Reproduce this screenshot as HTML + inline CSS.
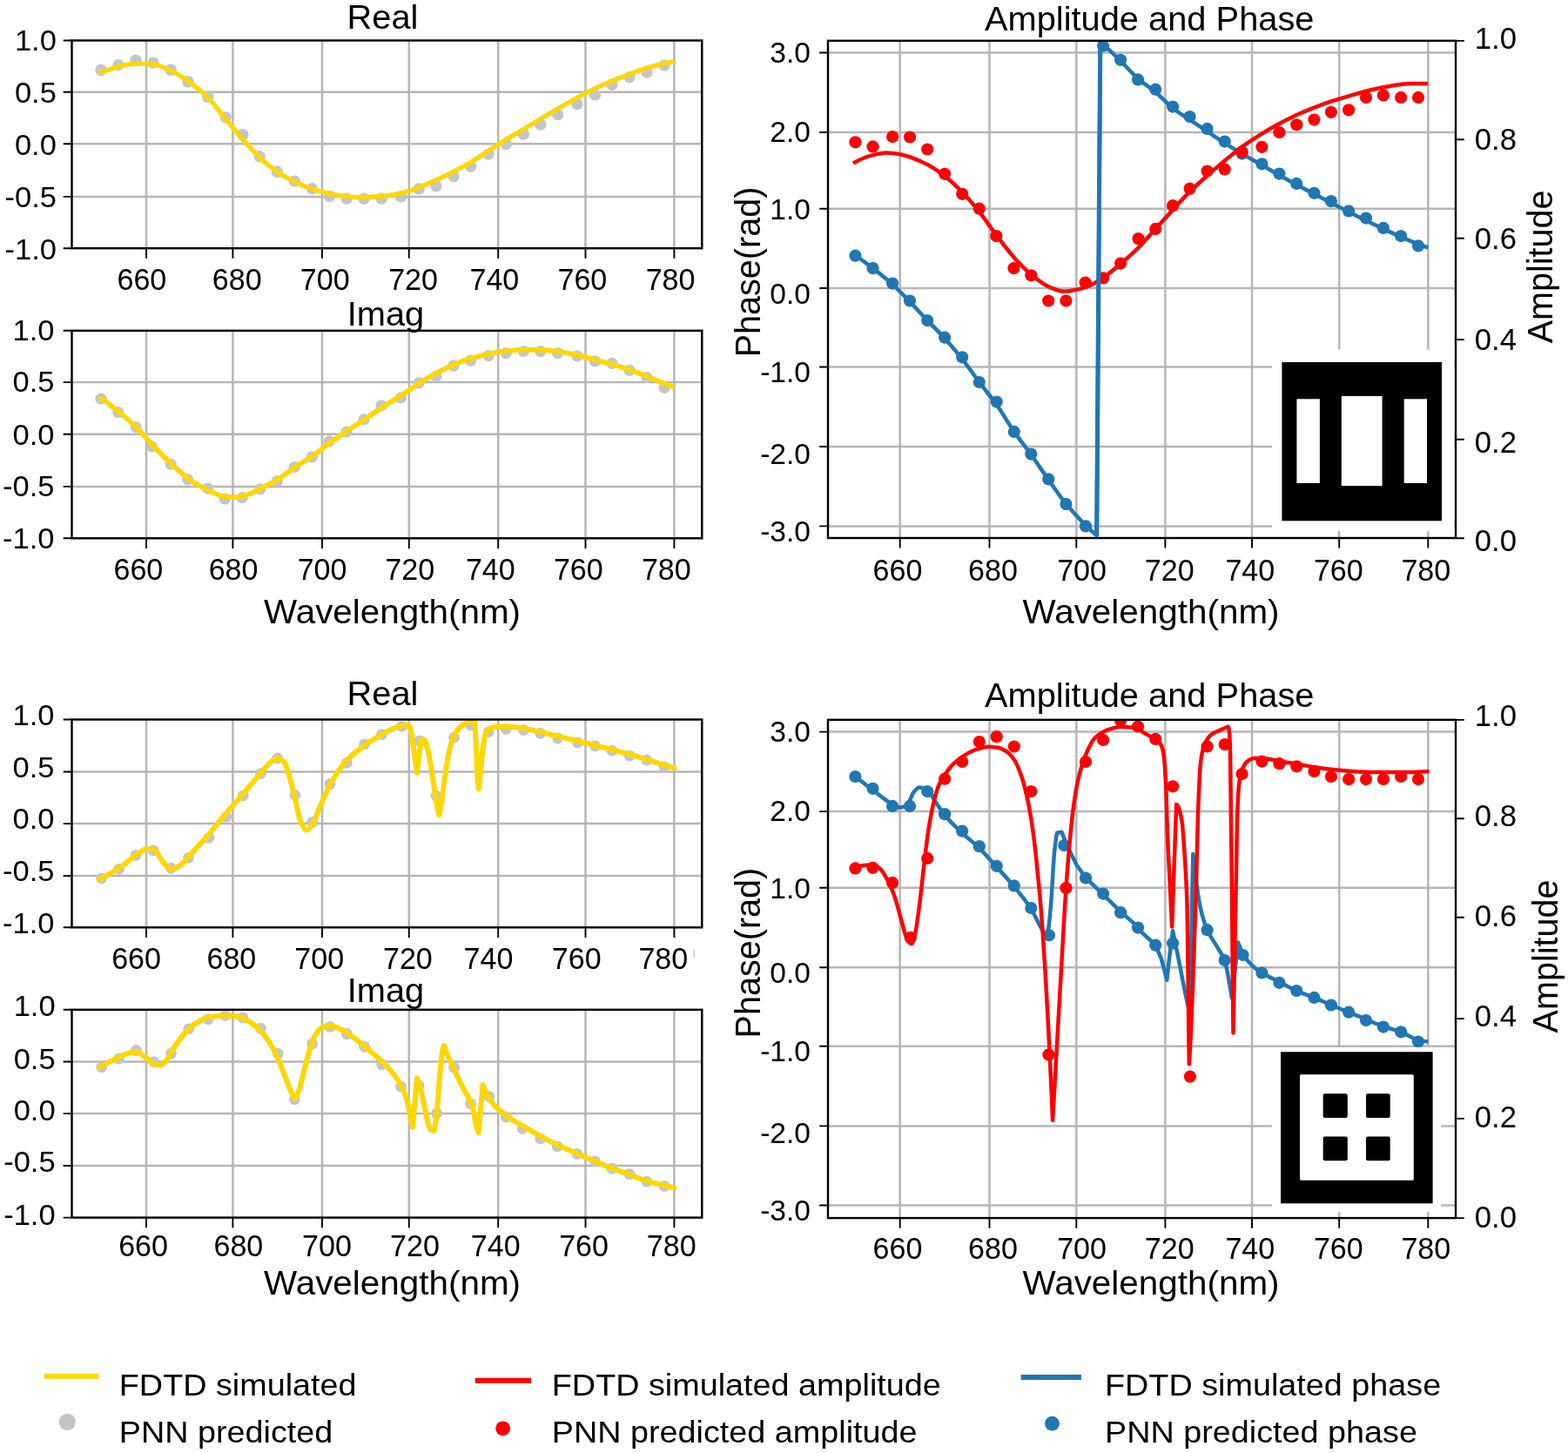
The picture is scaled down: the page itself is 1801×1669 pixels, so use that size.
<!DOCTYPE html>
<html lang="en">
<head>
<meta charset="utf-8">
<title>FDTD simulated vs PNN predicted spectra</title>
<style>
html,body{margin:0;padding:0;background:#fff;}
body{width:1801px;height:1669px;overflow:hidden;font-family:"Liberation Sans",sans-serif;}
svg{display:block;}
</style>
</head>
<body>
<svg width="1801" height="1669" viewBox="0 0 1801 1669" font-family="'Liberation Sans', sans-serif" fill="#000">
<rect width="1801" height="1669" fill="#fff"/>
<defs><clipPath id="clipA"><rect x="82.5" y="46.5" width="723.8" height="238.7"/></clipPath><clipPath id="clipB"><rect x="82.5" y="379.8" width="723.8" height="238.5"/></clipPath><clipPath id="clipD"><rect x="82.5" y="826.5" width="723.8" height="238.8"/></clipPath><clipPath id="clipE"><rect x="82.5" y="1159.8" width="723.8" height="238.8"/></clipPath><clipPath id="clipC"><rect x="951" y="46.8" width="721" height="571.2"/></clipPath><clipPath id="clipF"><rect x="951" y="826.8" width="721" height="572.3"/></clipPath></defs>
<g>
<path d="M168 46.5V285.2M267.4 46.5V285.2M370 46.5V285.2M469.8 46.5V285.2M572.2 46.5V285.2M672.5 46.5V285.2M774.4 46.5V285.2M82.5 105.7H806.3M82.5 165.3H806.3M82.5 225.9H806.3" stroke="#b6b6b6" stroke-width="2.5" fill="none"/>
<g clip-path="url(#clipA)">
<g fill="#c4c5ca"><circle cx="116" cy="80.5" r="6.7"/><circle cx="135.9" cy="74.8" r="6.7"/><circle cx="156" cy="69.3" r="6.7"/><circle cx="176.1" cy="72.1" r="6.7"/><circle cx="196.1" cy="80.2" r="6.7"/><circle cx="216" cy="93.7" r="6.7"/><circle cx="238.6" cy="111.4" r="6.7"/><circle cx="259.1" cy="134.7" r="6.7"/><circle cx="278.9" cy="154.8" r="6.7"/><circle cx="298.2" cy="179.8" r="6.7"/><circle cx="318.3" cy="197.2" r="6.7"/><circle cx="338.4" cy="208.1" r="6.7"/><circle cx="358.4" cy="216.7" r="6.7"/><circle cx="378.3" cy="225.5" r="6.7"/><circle cx="398" cy="228.2" r="6.7"/><circle cx="418" cy="228.3" r="6.7"/><circle cx="438.1" cy="228.2" r="6.7"/><circle cx="460.5" cy="225.9" r="6.7"/><circle cx="481.1" cy="216.9" r="6.7"/><circle cx="501" cy="213.7" r="6.7"/><circle cx="521.1" cy="202.6" r="6.7"/><circle cx="540.7" cy="191.3" r="6.7"/><circle cx="561.2" cy="177.1" r="6.7"/><circle cx="581.3" cy="165.6" r="6.7"/><circle cx="601.3" cy="154.3" r="6.7"/><circle cx="620.8" cy="142.9" r="6.7"/><circle cx="640.7" cy="131.5" r="6.7"/><circle cx="662.9" cy="119.5" r="6.7"/><circle cx="683.4" cy="108.9" r="6.7"/><circle cx="703" cy="97.3" r="6.7"/><circle cx="723.1" cy="88.8" r="6.7"/><circle cx="743" cy="83.1" r="6.7"/><circle cx="763" cy="75" r="6.7"/></g>
<path d="M113.9 84.2C121.2 81 128.6 78.3 135.9 76.6C142.6 75 149.3 72.9 156 72.9C162.7 72.9 169.4 73.3 176.1 73.9C182.8 74.5 189.4 78.1 196.1 81.1C202.7 84.1 209.4 88.4 216 93C223.5 98.2 231.1 104.5 238.6 111.9C245.4 118.7 252.3 128.3 259.1 136.6C265.7 144.4 272.3 152.8 278.9 160.2C285.3 167.4 291.7 174.8 298.2 180.7C304.9 186.9 311.6 192.6 318.3 197.2C325 201.7 331.7 205.6 338.4 208.9C345.1 212.1 351.7 214.9 358.4 217.1C365 219.2 371.7 221.1 378.3 222.4C384.9 223.7 391.4 225 398 225.5C404.7 226 411.3 226.5 418 226.5C424.7 226.5 431.4 226 438.1 225.5C448.7 224.7 459.2 222.2 469.8 219.4C474.9 218 480.1 215.6 485.2 213.6C490.5 211.5 495.7 209.2 501 206.8C507.7 203.8 514.4 200.6 521.1 197.2C527.7 193.8 534.2 190.2 540.7 186.3C547.5 182.2 554.4 177.5 561.2 173.1C567.9 168.8 574.6 164.3 581.3 160.2C588 156.1 594.6 152.5 601.3 148.5C607.8 144.6 614.3 140.5 620.8 136.6C627.4 132.6 634.1 128.7 640.7 124.8C648.1 120.6 655.5 116.3 662.9 112.3C669.8 108.6 676.6 104.9 683.4 101.6C690 98.5 696.5 95.7 703 93C709.7 90.2 716.4 87.7 723.1 85.2C729.7 82.7 736.4 80 743 78C749.7 76 756.3 74.4 763 72.9C766.8 72 770.6 71.2 774.5 70.4" fill="none" stroke="#ffd700" stroke-width="5.3" stroke-linejoin="round"/>
</g>
<rect x="82.5" y="46.5" width="723.8" height="238.7" fill="none" stroke="#000" stroke-width="2.4"/>
<path d="M168 285.2v11.6M267.4 285.2v11.6M370 285.2v11.6M469.8 285.2v11.6M572.2 285.2v11.6M672.5 285.2v11.6M774.4 285.2v11.6M82.5 46.5h-9.8M82.5 105.7h-9.8M82.5 165.3h-9.8M82.5 225.9h-9.8M82.5 285.2h-9.8" stroke="#000" stroke-width="1.9" fill="none"/>
<text transform="translate(162.9 332.6) scale(0.968 1)" font-size="35.2" text-anchor="middle">660</text>
<text transform="translate(272.2 332.6) scale(0.968 1)" font-size="35.2" text-anchor="middle">680</text>
<text transform="translate(373.2 332.6) scale(0.968 1)" font-size="35.2" text-anchor="middle">700</text>
<text transform="translate(474.6 332.6) scale(0.968 1)" font-size="35.2" text-anchor="middle">720</text>
<text transform="translate(567.9 332.6) scale(0.968 1)" font-size="35.2" text-anchor="middle">740</text>
<text transform="translate(668.9 332.6) scale(0.968 1)" font-size="35.2" text-anchor="middle">760</text>
<text transform="translate(770.1 332.6) scale(0.968 1)" font-size="35.2" text-anchor="middle">780</text>
<text transform="translate(64.9 58.3) scale(1.027 1)" font-size="33.6" text-anchor="end">1.0</text>
<text transform="translate(64.9 118) scale(1.027 1)" font-size="33.6" text-anchor="end">0.5</text>
<text transform="translate(64.9 178.2) scale(1.027 1)" font-size="33.6" text-anchor="end">0.0</text>
<text transform="translate(64.9 238) scale(1.027 1)" font-size="33.6" text-anchor="end">-0.5</text>
<text transform="translate(64.9 297.8) scale(1.027 1)" font-size="33.6" text-anchor="end">-1.0</text>
<path d="M168 379.8V618.3M267.4 379.8V618.3M370 379.8V618.3M469.8 379.8V618.3M572.2 379.8V618.3M672.5 379.8V618.3M774.4 379.8V618.3M82.5 439.1H806.3M82.5 498.7H806.3M82.5 558.9H806.3" stroke="#b6b6b6" stroke-width="2.5" fill="none"/>
<g clip-path="url(#clipB)">
<g fill="#c4c5ca"><circle cx="116" cy="458.2" r="6.6"/><circle cx="135.9" cy="473.6" r="6.6"/><circle cx="156" cy="490.5" r="6.6"/><circle cx="174.5" cy="512.8" r="6.6"/><circle cx="196.1" cy="533.1" r="6.6"/><circle cx="215.6" cy="550.6" r="6.6"/><circle cx="238.6" cy="561.2" r="6.6"/><circle cx="258.3" cy="573" r="6.6"/><circle cx="278.3" cy="571.7" r="6.6"/><circle cx="298.8" cy="561.9" r="6.6"/><circle cx="318.3" cy="552.6" r="6.6"/><circle cx="338.4" cy="536.4" r="6.6"/><circle cx="358.4" cy="524.9" r="6.6"/><circle cx="378.3" cy="506.8" r="6.6"/><circle cx="398" cy="496.2" r="6.6"/><circle cx="418" cy="481.9" r="6.6"/><circle cx="438.1" cy="465.8" r="6.6"/><circle cx="460.5" cy="456.9" r="6.6"/><circle cx="481.1" cy="439.8" r="6.6"/><circle cx="501" cy="432.2" r="6.6"/><circle cx="521.1" cy="420.1" r="6.6"/><circle cx="540.7" cy="414.2" r="6.6"/><circle cx="561.2" cy="408.7" r="6.6"/><circle cx="581.3" cy="405.6" r="6.6"/><circle cx="601.3" cy="403.6" r="6.6"/><circle cx="620.8" cy="403.6" r="6.6"/><circle cx="640.7" cy="405.7" r="6.6"/><circle cx="662.9" cy="408.8" r="6.6"/><circle cx="683.4" cy="414.9" r="6.6"/><circle cx="703" cy="417.3" r="6.6"/><circle cx="723.1" cy="425.3" r="6.6"/><circle cx="743" cy="433.5" r="6.6"/><circle cx="763" cy="445.4" r="6.6"/></g>
<path d="M113.9 456.2C121.2 461.2 128.6 466.7 135.9 472.6C142.6 478 149.3 483.6 156 490.1C162.7 496.6 169.4 505.3 176.1 512.3C182.8 519.3 189.4 526 196.1 532.2C202.7 538.4 209.4 545 216 549.7C223.5 555 231.1 559.6 238.6 563C245.3 566.1 252 569.9 258.7 570.6C261.6 571 264.5 571.3 267.4 571.3C271.2 571.3 275 570.5 278.9 569.8C285.3 568.6 291.7 564.6 298.2 561.6C304.9 558.5 311.6 555.3 318.3 551.3C325 547.3 331.7 541.5 338.4 536.9C345.1 532.4 351.7 528.6 358.4 524C365 519.4 371.7 513.8 378.3 509C384.9 504.3 391.4 499.9 398 495.4C404.7 490.9 411.3 486.6 418 482.1C424.7 477.6 431.4 472.9 438.1 468.5C445.6 463.6 453.1 459.3 460.5 454.4C467.4 449.9 474.2 444.7 481.1 440.4C487.7 436.2 494.4 432.2 501 428.7C507.7 425.1 514.4 421.6 521.1 418.8C527.7 416.1 534.2 413.8 540.7 411.8C547.5 409.8 554.4 407.9 561.2 406.5C567.9 405.1 574.6 403.9 581.3 403.2C588 402.5 594.6 401.6 601.3 401.6C607.8 401.6 614.3 401.6 620.8 401.8C627.4 401.9 634.1 402.9 640.7 403.8C648.1 404.8 655.5 406.3 662.9 407.9C669.8 409.4 676.6 411.4 683.4 413.3C690 415 696.5 416.7 703 418.6C709.7 420.5 716.4 422.5 723.1 424.8C729.7 427 736.4 429.7 743 432.4C749.7 435 756.3 438.1 763 440.6C766.8 442 770.6 443.4 774.5 444.7" fill="none" stroke="#ffd700" stroke-width="5.7" stroke-linejoin="round"/>
</g>
<rect x="82.5" y="379.8" width="723.8" height="238.5" fill="none" stroke="#000" stroke-width="2.4"/>
<path d="M168 618.3v11.6M267.4 618.3v11.6M370 618.3v11.6M469.8 618.3v11.6M572.2 618.3v11.6M672.5 618.3v11.6M774.4 618.3v11.6M82.5 379.8h-9.8M82.5 439.1h-9.8M82.5 498.7h-9.8M82.5 558.9h-9.8M82.5 618.3h-9.8" stroke="#000" stroke-width="1.9" fill="none"/>
<text transform="translate(158.9 666.3) scale(0.968 1)" font-size="35.2" text-anchor="middle">660</text>
<text transform="translate(268.1 666.3) scale(0.968 1)" font-size="35.2" text-anchor="middle">680</text>
<text transform="translate(370.1 666.3) scale(0.968 1)" font-size="35.2" text-anchor="middle">700</text>
<text transform="translate(470.7 666.3) scale(0.968 1)" font-size="35.2" text-anchor="middle">720</text>
<text transform="translate(563.3 666.3) scale(0.968 1)" font-size="35.2" text-anchor="middle">740</text>
<text transform="translate(664.3 666.3) scale(0.968 1)" font-size="35.2" text-anchor="middle">760</text>
<text transform="translate(765.3 666.3) scale(0.968 1)" font-size="35.2" text-anchor="middle">780</text>
<text transform="translate(62.5 391) scale(1.027 1)" font-size="33.6" text-anchor="end">1.0</text>
<text transform="translate(62.5 450.2) scale(1.027 1)" font-size="33.6" text-anchor="end">0.5</text>
<text transform="translate(62.5 510.6) scale(1.027 1)" font-size="33.6" text-anchor="end">0.0</text>
<text transform="translate(62.5 570.4) scale(1.027 1)" font-size="33.6" text-anchor="end">-0.5</text>
<text transform="translate(62.5 630.1) scale(1.027 1)" font-size="33.6" text-anchor="end">-1.0</text>
<path d="M168 826.5V1065.3M267.4 826.5V1065.3M370 826.5V1065.3M469.8 826.5V1065.3M572.2 826.5V1065.3M672.5 826.5V1065.3M774.4 826.5V1065.3M82.5 886.5H806.3M82.5 946.1H806.3M82.5 1006H806.3" stroke="#b6b6b6" stroke-width="2.5" fill="none"/>
<g clip-path="url(#clipD)">
<g fill="#c4c5ca"><circle cx="116.6" cy="1009" r="6.4"/><circle cx="136.5" cy="998.4" r="6.4"/><circle cx="156" cy="982.4" r="6.4"/><circle cx="176.1" cy="976.8" r="6.4"/><circle cx="196.5" cy="997.3" r="6.4"/><circle cx="216.6" cy="985.3" r="6.4"/><circle cx="239.8" cy="962.3" r="6.4"/><circle cx="259.8" cy="938.4" r="6.4"/><circle cx="279.3" cy="913.8" r="6.4"/><circle cx="299.4" cy="888.7" r="6.4"/><circle cx="318.7" cy="871" r="6.4"/><circle cx="338.9" cy="913.3" r="6.4"/><circle cx="358.8" cy="944.4" r="6.4"/><circle cx="378.9" cy="900.7" r="6.4"/><circle cx="398.4" cy="876.3" r="6.4"/><circle cx="418.6" cy="854.9" r="6.4"/><circle cx="438.5" cy="843.7" r="6.4"/><circle cx="461.6" cy="834.3" r="6.4"/><circle cx="482.1" cy="850.9" r="6.4"/><circle cx="501" cy="914.1" r="6.4"/><circle cx="521.6" cy="847.2" r="6.4"/><circle cx="540.7" cy="832.9" r="6.4"/><circle cx="561.2" cy="840.8" r="6.4"/><circle cx="581.3" cy="837.4" r="6.4"/><circle cx="601.3" cy="838.4" r="6.4"/><circle cx="620.8" cy="842.5" r="6.4"/><circle cx="640.7" cy="848" r="6.4"/><circle cx="663.5" cy="852.9" r="6.4"/><circle cx="683.4" cy="856.8" r="6.4"/><circle cx="703" cy="862.2" r="6.4"/><circle cx="723.1" cy="868.1" r="6.4"/><circle cx="743" cy="873.2" r="6.4"/><circle cx="763" cy="880.8" r="6.4"/></g>
<path d="M113.9 1010.2C121.2 1006.8 128.6 1002.6 135.9 997.8C142.6 993.5 149.3 986.8 156 982.4C160.1 979.7 164.2 975.2 168.3 975.2C171.1 975.2 173.8 975.4 176.6 975.7C180 976 183.4 985.9 186.8 989.6C190.3 993.3 193.7 998.9 197.1 998.9C200.5 998.9 203.9 996.1 207.4 993.7C210.2 991.8 213.1 987.6 216 984.5C223.5 976.4 231.1 968.5 238.6 959.8C245.4 951.9 252.3 942.8 259.1 934.8C265.7 927 272.3 920 278.9 912.4C285.3 904.9 291.7 896.6 298.2 889.4C302.8 884.2 307.5 877.7 312.1 874.6C314.5 873 316.9 870.9 319.3 870.9C321.7 870.9 324.1 873 326.5 875.6C328.6 877.8 330.6 886.3 332.7 893.1C334.6 899.4 336.5 908 338.4 915.7C340.6 924.4 342.8 937.4 345 942.4C347.4 947.8 349.8 953.7 352.2 953.7C354.3 953.7 356.3 950.3 358.4 947.5C361.5 943.3 364.5 933.3 367.6 926.3C371.2 918.4 374.7 909.7 378.3 902.9C381.6 896.7 384.9 891.1 388.2 886.3C391.4 881.5 394.7 877 398 873.6C404.7 866.6 411.3 861.3 418 856.5C424.7 851.6 431.4 847.5 438.1 843.8C442.1 841.5 446.2 839.3 450.3 837.6C453.7 836.2 457.1 834.6 460.5 833.9C463.3 833.3 466 832.8 468.8 832.7C470 832.8 471.2 837.2 472.5 841.7C473.6 846 474.8 858.2 476 866.4C477 873.6 478 880.8 479 887.9C479.9 879.6 480.7 872.2 481.5 866.4C482.5 859.6 483.4 849.5 484.4 849.5C485.5 849.5 486.6 849.7 487.7 849.9C489.2 850.3 490.8 859.4 492.4 866.4C494.1 873.9 495.8 886.5 497.5 897.2C498.9 905.7 500.3 916.6 501.6 923.9C502.5 928.6 503.4 932.8 504.3 936.2C505.1 932.9 505.9 928.7 506.8 923.9C508.1 915.8 509.5 902.2 510.9 893.1C512.6 881.6 514.3 869.2 516 862.3C518.1 854 520.1 847.5 522.2 843.8C524.9 838.8 527.7 835.4 530.4 833.5C533.1 831.5 535.9 829.9 538.6 829.4C540.8 829 543 828.6 545.2 828.6C545.7 836.2 546.3 845.6 546.8 856.1C547.4 866.6 547.9 885.9 548.5 893.1C549 899.3 549.4 904.9 549.9 906.4C550.6 900.1 551.3 893.6 552 886.9C553 876.9 554 862.6 555 856.1C556.1 849.6 557.1 843.5 558.1 841.7C559.8 838.7 561.6 837.2 563.3 836.6C566.6 835.4 569.8 834.5 573.1 834.5C576.7 834.5 580.2 834.5 583.8 834.5C589.6 834.5 595.5 835.7 601.3 836.6C607.8 837.5 614.3 839.2 620.8 840.7C627.4 842.2 634.1 844.2 640.7 845.8C648.1 847.6 655.5 849.2 662.9 851C669.8 852.6 676.6 854.3 683.4 856.1C690 857.8 696.5 859.5 703 861.2C709.7 863 716.4 864.5 723.1 866.4C729.7 868.2 736.4 870.5 743 872.5C749.7 874.6 756.3 876.6 763 878.7C766.8 879.9 770.6 881.1 774.5 882.4" fill="none" stroke="#ffd700" stroke-width="6.0" stroke-linejoin="round" stroke-linecap="round"/>
</g>
<rect x="82.5" y="826.5" width="723.8" height="238.8" fill="none" stroke="#000" stroke-width="2.4"/>
<path d="M168 1065.3v11.6M267.4 1065.3v11.6M370 1065.3v11.6M469.8 1065.3v11.6M572.2 1065.3v11.6M672.5 1065.3v11.6M774.4 1065.3v11.6M82.5 826.5h-9.8M82.5 886.5h-9.8M82.5 946.1h-9.8M82.5 1006h-9.8M82.5 1065.3h-9.8" stroke="#000" stroke-width="1.9" fill="none"/>
<text transform="translate(156.6 1112.6) scale(0.968 1)" font-size="35.2" text-anchor="middle">660</text>
<text transform="translate(265.9 1112.6) scale(0.968 1)" font-size="35.2" text-anchor="middle">680</text>
<text transform="translate(366.7 1112.6) scale(0.968 1)" font-size="35.2" text-anchor="middle">700</text>
<text transform="translate(468.4 1112.6) scale(0.968 1)" font-size="35.2" text-anchor="middle">720</text>
<text transform="translate(561 1112.6) scale(0.968 1)" font-size="35.2" text-anchor="middle">740</text>
<text transform="translate(662.2 1112.6) scale(0.968 1)" font-size="35.2" text-anchor="middle">760</text>
<text transform="translate(761.8 1112.6) scale(0.968 1)" font-size="35.2" text-anchor="middle">780</text>
<text transform="translate(62.5 832.8) scale(1.027 1)" font-size="33.6" text-anchor="end">1.0</text>
<text transform="translate(62.5 892.8) scale(1.027 1)" font-size="33.6" text-anchor="end">0.5</text>
<text transform="translate(62.5 952.4) scale(1.027 1)" font-size="33.6" text-anchor="end">0.0</text>
<text transform="translate(62.5 1011.5) scale(1.027 1)" font-size="33.6" text-anchor="end">-0.5</text>
<text transform="translate(62.5 1071.6) scale(1.027 1)" font-size="33.6" text-anchor="end">-1.0</text>
<path d="M168 1159.8V1398.6M267.4 1159.8V1398.6M370 1159.8V1398.6M469.8 1159.8V1398.6M572.2 1159.8V1398.6M672.5 1159.8V1398.6M774.4 1159.8V1398.6M82.5 1219.5H806.3M82.5 1279.1H806.3M82.5 1339H806.3" stroke="#b6b6b6" stroke-width="2.5" fill="none"/>
<g clip-path="url(#clipE)">
<g fill="#c4c5ca"><circle cx="116.6" cy="1225.7" r="6.4"/><circle cx="136.5" cy="1216.1" r="6.4"/><circle cx="156.4" cy="1206.5" r="6.4"/><circle cx="176.6" cy="1219.8" r="6.4"/><circle cx="196.5" cy="1210.1" r="6.4"/><circle cx="216.6" cy="1182" r="6.4"/><circle cx="239.2" cy="1170.7" r="6.4"/><circle cx="258.7" cy="1166.5" r="6.4"/><circle cx="278.9" cy="1168.9" r="6.4"/><circle cx="299.4" cy="1181.2" r="6.4"/><circle cx="319.3" cy="1210.2" r="6.4"/><circle cx="338.4" cy="1262.7" r="6.4"/><circle cx="358.8" cy="1198.7" r="6.4"/><circle cx="378.9" cy="1179.4" r="6.4"/><circle cx="398.4" cy="1187.5" r="6.4"/><circle cx="418.6" cy="1202.3" r="6.4"/><circle cx="438.5" cy="1222.6" r="6.4"/><circle cx="460.5" cy="1248.2" r="6.4"/><circle cx="481.1" cy="1246.7" r="6.4"/><circle cx="501.6" cy="1278.8" r="6.4"/><circle cx="521.6" cy="1226.2" r="6.4"/><circle cx="540.7" cy="1267.9" r="6.4"/><circle cx="561.8" cy="1259.5" r="6.4"/><circle cx="581.3" cy="1283" r="6.4"/><circle cx="600.2" cy="1296.5" r="6.4"/><circle cx="620.8" cy="1308" r="6.4"/><circle cx="640.3" cy="1316.8" r="6.4"/><circle cx="662.9" cy="1325.5" r="6.4"/><circle cx="683.4" cy="1333.9" r="6.4"/><circle cx="703" cy="1342.1" r="6.4"/><circle cx="723.1" cy="1348.6" r="6.4"/><circle cx="743" cy="1357.2" r="6.4"/><circle cx="763" cy="1362.4" r="6.4"/></g>
<path d="M113.9 1226.1C121.2 1221.9 128.6 1218.2 135.9 1214.8C139.9 1212.9 143.8 1210.4 147.8 1209.6C150.5 1209.1 153.3 1208.6 156 1208.6C159.4 1208.6 162.9 1211.6 166.3 1213.7C169.7 1215.8 173.1 1220.8 176.6 1222C179 1222.8 181.4 1223.6 183.7 1223.6C186 1223.6 188.3 1221.1 190.5 1218.9C193.2 1216.3 195.9 1209.7 198.5 1205.5C201.6 1200.7 204.7 1196.1 207.8 1192.2C211.2 1187.8 214.6 1183.4 218.1 1180.5C221.9 1177.2 225.7 1174.6 229.6 1172.7C232.8 1171 236.1 1169.1 239.4 1168.5C246 1167.4 252.6 1166.5 259.1 1166.5C263.1 1166.5 267.1 1167 271.1 1167.5C273.7 1167.9 276.3 1168.6 278.9 1169.6C282.4 1170.8 286 1173.3 289.6 1175.7C292.4 1177.7 295.3 1180.1 298.2 1182.9C301.5 1186.2 304.8 1190.4 308 1195.3C311.5 1200.3 314.9 1206.5 318.3 1213.7C321.1 1219.5 323.8 1227.3 326.5 1234.3C328.9 1240.4 331.3 1247.5 333.7 1252.8C335.3 1256.2 336.9 1259.3 338.4 1262C340.3 1260 342.1 1255.7 344 1250.7C346 1245.2 348.1 1234 350.2 1226.1C352 1219 353.9 1211.3 355.7 1205.5C357.5 1200 359.3 1194.5 361 1191.1C363.2 1187 365.4 1183.5 367.6 1181.9C370 1180.2 372.4 1178.4 374.8 1178.4C376.5 1178.4 378.2 1178.4 379.9 1178.4C382.7 1178.4 385.4 1179.8 388.2 1180.9C391.4 1182.1 394.7 1184 398 1186C404.7 1190.1 411.3 1196 418 1201.4C424.7 1206.9 431.4 1212.4 438.1 1218.9C442.8 1223.5 447.6 1228.1 452.3 1234.3C455.4 1238.3 458.5 1242.5 461.6 1248.7C463.6 1252.8 465.7 1257.8 467.7 1265.1C469.1 1270 470.5 1279.2 471.8 1285.6C472.5 1288.9 473.2 1291.9 473.9 1294.9C474.6 1286.8 475.3 1278.9 476 1271.3C477 1259.9 478 1248.8 479 1238.4C480.4 1241.6 481.8 1245.8 483.1 1250.7C485.2 1258.1 487.3 1270.8 489.3 1279.5C490.8 1285.8 492.3 1295.8 493.8 1296.9C495.4 1298.2 497 1299 498.6 1299C499.6 1295.7 500.6 1288.2 501.6 1279.5C502.7 1270.8 503.7 1251.9 504.7 1240.4C505.7 1229 506.8 1215.5 507.8 1209.6C508.5 1205.7 509.2 1202.3 509.9 1201C511.2 1204.7 512.6 1208.4 514 1211.7C516.7 1218.3 519.4 1224.4 522.2 1230.2C525.6 1237.4 529 1243.9 532.4 1250.7C535.9 1257.6 539.3 1260.8 542.7 1271.3C544.1 1275.4 545.5 1286.3 546.8 1291.8C547.7 1295.4 548.6 1298.5 549.5 1301.1C550.3 1292.7 551.1 1284.1 552 1275.4C552.9 1265.9 553.7 1256.2 554.6 1246.2C556.1 1250.2 557.6 1254.1 559.2 1256.9C561.9 1262 564.6 1266.1 567.4 1269.2C572 1274.5 576.7 1278.1 581.3 1281.5C588 1286.4 594.6 1289.9 601.3 1293.9C607.8 1297.8 614.3 1301.6 620.8 1305.2C627.4 1308.8 634.1 1312.3 640.7 1315.4C648.1 1318.9 655.5 1321.9 662.9 1325.1C669.8 1328.1 676.6 1331 683.4 1333.9C690 1336.7 696.5 1339.6 703 1342.1C709.7 1344.7 716.4 1346.9 723.1 1349.3C729.7 1351.7 736.4 1354.5 743 1356.5C749.7 1358.5 756.3 1360.1 763 1361.7C766.8 1362.5 770.6 1363.4 774.5 1364.1" fill="none" stroke="#ffd700" stroke-width="6.0" stroke-linejoin="round" stroke-linecap="round"/>
</g>
<rect x="82.5" y="1159.8" width="723.8" height="238.8" fill="none" stroke="#000" stroke-width="2.4"/>
<path d="M168 1398.6v11.6M267.4 1398.6v11.6M370 1398.6v11.6M469.8 1398.6v11.6M572.2 1398.6v11.6M672.5 1398.6v11.6M774.4 1398.6v11.6M82.5 1159.8h-9.8M82.5 1219.5h-9.8M82.5 1279.1h-9.8M82.5 1339h-9.8M82.5 1398.6h-9.8" stroke="#000" stroke-width="1.9" fill="none"/>
<text transform="translate(164.6 1442.5) scale(0.968 1)" font-size="35.2" text-anchor="middle">660</text>
<text transform="translate(273.9 1442.5) scale(0.968 1)" font-size="35.2" text-anchor="middle">680</text>
<text transform="translate(375.5 1442.5) scale(0.968 1)" font-size="35.2" text-anchor="middle">700</text>
<text transform="translate(476.5 1442.5) scale(0.968 1)" font-size="35.2" text-anchor="middle">720</text>
<text transform="translate(569.2 1442.5) scale(0.968 1)" font-size="35.2" text-anchor="middle">740</text>
<text transform="translate(670.6 1442.5) scale(0.968 1)" font-size="35.2" text-anchor="middle">760</text>
<text transform="translate(771.2 1442.5) scale(0.968 1)" font-size="35.2" text-anchor="middle">780</text>
<text transform="translate(63.6 1167.4) scale(1.027 1)" font-size="33.6" text-anchor="end">1.0</text>
<text transform="translate(63.6 1227.5) scale(1.027 1)" font-size="33.6" text-anchor="end">0.5</text>
<text transform="translate(63.6 1286.5) scale(1.027 1)" font-size="33.6" text-anchor="end">0.0</text>
<text transform="translate(63.6 1346.3) scale(1.027 1)" font-size="33.6" text-anchor="end">-0.5</text>
<text transform="translate(63.6 1406.8) scale(1.027 1)" font-size="33.6" text-anchor="end">-1.0</text>
<path d="M1033.7 46.8V618M1136.5 46.8V618M1236.3 46.8V618M1338.4 46.8V618M1438 46.8V618M1538.2 46.8V618M1640.3 46.8V618M951 60.5H1672M951 152H1672M951 239.7H1672M951 331H1672M951 421.5H1672M951 513H1672M951 604.4H1672" stroke="#b6b6b6" stroke-width="2.5" fill="none"/>
<g clip-path="url(#clipC)">
<g fill="#1f77b4"><circle cx="982.4" cy="293.7" r="7.1"/><circle cx="1002.5" cy="308.1" r="7.1"/><circle cx="1025.1" cy="325.6" r="7.1"/><circle cx="1045" cy="345.5" r="7.1"/><circle cx="1065.2" cy="368.1" r="7.1"/><circle cx="1085.1" cy="387.7" r="7.1"/><circle cx="1105.2" cy="410.3" r="7.1"/><circle cx="1124.8" cy="439" r="7.1"/><circle cx="1144.7" cy="461.6" r="7.1"/><circle cx="1164.8" cy="495.9" r="7.1"/><circle cx="1184.3" cy="521.6" r="7.1"/><circle cx="1204.3" cy="550.4" r="7.1"/><circle cx="1224.4" cy="579.1" r="7.1"/><circle cx="1247" cy="604.4" r="7.1"/><circle cx="1267.1" cy="52.7" r="7.1"/><circle cx="1287.1" cy="68.8" r="7.1"/><circle cx="1307" cy="91.4" r="7.1"/><circle cx="1327.2" cy="102.7" r="7.1"/><circle cx="1347.1" cy="122.6" r="7.1"/><circle cx="1366.6" cy="134.1" r="7.1"/><circle cx="1386.6" cy="147.9" r="7.1"/><circle cx="1406.7" cy="162.6" r="7.1"/><circle cx="1426.6" cy="176.6" r="7.1"/><circle cx="1449.4" cy="188.3" r="7.1"/><circle cx="1469.4" cy="199.6" r="7.1"/><circle cx="1489.3" cy="210.9" r="7.1"/><circle cx="1509.4" cy="221.8" r="7.1"/><circle cx="1528.9" cy="231.1" r="7.1"/><circle cx="1549.1" cy="242.4" r="7.1"/><circle cx="1569" cy="250.6" r="7.1"/><circle cx="1588.9" cy="261.9" r="7.1"/><circle cx="1609.1" cy="271.1" r="7.1"/><circle cx="1629" cy="282.4" r="7.1"/></g>
<path d="M979.9 291.7C987.5 296.8 995 302.3 1002.5 308.1C1010.1 313.9 1017.6 319.8 1025.1 326.6C1031.8 332.6 1038.4 339.7 1045 346.6C1051.8 353.5 1058.5 361.1 1065.2 368.1C1071.8 375.1 1078.5 381.4 1085.1 388.7C1091.8 396.1 1098.5 403.8 1105.2 412.3C1111.7 420.5 1118.3 430.4 1124.8 439C1131.4 447.8 1138 455.4 1144.7 464.7C1151.4 474.1 1158.1 486.3 1164.8 495.9C1171.3 505.3 1177.8 513.2 1184.3 522.2C1191 531.5 1197.6 541.6 1204.3 551C1211 560.4 1217.7 570.5 1224.4 578.7C1231.9 587.9 1239.5 595.9 1247 603.4C1251.2 607.6 1255.5 611.4 1259.7 615.1L1263.8 48.2C1271.6 55 1279.3 62.2 1287.1 69.8C1293.7 76.3 1300.3 84.5 1307 90.3C1313.7 96.2 1320.5 100.1 1327.2 105.7C1333.8 111.3 1340.5 119 1347.1 124.2C1353.6 129.4 1360.1 133.2 1366.6 137.6C1373.3 142.1 1379.9 146.5 1386.6 150.9C1393.3 155.4 1400 160 1406.7 164.3C1413.3 168.5 1420 172.7 1426.6 176.6C1434.2 181.1 1441.8 185.2 1449.4 189.6C1456.1 193.4 1462.7 197.5 1469.4 201.3C1476 205 1482.6 208.6 1489.3 212.2C1496 215.8 1502.7 219.3 1509.4 222.8C1515.9 226.3 1522.4 229.7 1528.9 233.1C1535.6 236.6 1542.4 240 1549.1 243.4C1555.7 246.7 1562.3 250 1569 253.2C1575.6 256.5 1582.3 259.8 1588.9 262.9C1595.6 266.1 1602.3 269.2 1609.1 272.1C1615.7 275 1622.3 277.8 1629 280.4C1632.7 281.8 1636.5 283.2 1640.3 284.5" fill="none" stroke="#1f77b4" stroke-width="4.5" stroke-linejoin="round"/>
<g fill="#ff0000"><circle cx="982.4" cy="163.3" r="7.1"/><circle cx="1002.5" cy="168.4" r="7.1"/><circle cx="1025.1" cy="157.1" r="7.1"/><circle cx="1045" cy="157.5" r="7.1"/><circle cx="1065.2" cy="171.5" r="7.1"/><circle cx="1085.1" cy="199.8" r="7.1"/><circle cx="1105.2" cy="222.8" r="7.1"/><circle cx="1124.8" cy="239.7" r="7.1"/><circle cx="1144.3" cy="271.1" r="7.1"/><circle cx="1164.4" cy="308.1" r="7.1"/><circle cx="1184.3" cy="316.3" r="7.1"/><circle cx="1204.2" cy="345.5" r="7.1"/><circle cx="1224.4" cy="345.5" r="7.1"/><circle cx="1246.6" cy="324.5" r="7.1"/><circle cx="1267.1" cy="319.4" r="7.1"/><circle cx="1287.1" cy="302.6" r="7.1"/><circle cx="1307.6" cy="274.2" r="7.1"/><circle cx="1327.2" cy="262.9" r="7.1"/><circle cx="1347.1" cy="236.2" r="7.1"/><circle cx="1366.6" cy="216.7" r="7.1"/><circle cx="1386.6" cy="196.5" r="7.1"/><circle cx="1406.7" cy="194.5" r="7.1"/><circle cx="1426.6" cy="174.6" r="7.1"/><circle cx="1449.4" cy="168.8" r="7.1"/><circle cx="1469.4" cy="152" r="7.1"/><circle cx="1489.3" cy="143.3" r="7.1"/><circle cx="1509.4" cy="137.6" r="7.1"/><circle cx="1528.9" cy="128.8" r="7.1"/><circle cx="1549.1" cy="126.3" r="7.1"/><circle cx="1569" cy="111.9" r="7.1"/><circle cx="1588.9" cy="109.4" r="7.1"/><circle cx="1609.1" cy="111.9" r="7.1"/><circle cx="1629" cy="111.9" r="7.1"/></g>
<path d="M979.9 187.5C987.5 183.2 995 179.7 1002.5 178.1C1008 176.9 1013.5 175.6 1019 175.6C1023.9 175.6 1028.8 176.4 1033.8 177.2C1044.2 178.9 1054.7 183.8 1065.2 188.9C1071.8 192.2 1078.5 197.2 1085.1 202.3C1091.8 207.5 1098.5 213.9 1105.2 220.8C1111.7 227.5 1118.3 235.2 1124.8 243.4C1131.3 251.5 1137.8 261.6 1144.3 270.1C1151 278.9 1157.7 287.9 1164.4 295.4C1171.1 302.8 1177.7 309.8 1184.3 315.3C1191 320.8 1197.6 326.4 1204.3 329.3C1210.3 331.8 1216.3 334.8 1222.3 334.8C1230.4 334.8 1238.5 332.4 1246.6 330.1C1253.4 328.1 1260.3 323.4 1267.1 319C1273.8 314.7 1280.4 308.6 1287.1 303C1293.9 297.2 1300.8 291.3 1307.6 284.5C1314.1 278 1320.7 270.1 1327.2 262.9C1333.8 255.6 1340.5 248.1 1347.1 240.9C1353.6 233.9 1360.1 226.6 1366.6 220.2C1373.3 213.6 1379.9 207.6 1386.6 201.7C1393.3 195.7 1400 190.2 1406.7 184.6C1413.3 179.2 1420 173.4 1426.6 168.6C1434.2 163.1 1441.8 158.3 1449.4 153.6C1456.1 149.5 1462.7 145.7 1469.4 142.1C1476 138.5 1482.6 135.1 1489.3 132C1496 129 1502.7 126.2 1509.4 123.6C1515.9 121.1 1522.4 118.6 1528.9 116.4C1535.6 114.2 1542.4 112.2 1549.1 110.3C1555.7 108.3 1562.3 106.4 1569 104.7C1575.6 103.1 1582.3 101.5 1588.9 100.2C1595.6 98.9 1602.3 97.7 1609.1 96.9C1612.5 96.5 1615.9 95.9 1619.3 95.9C1626.3 95.9 1633.3 95.9 1640.3 95.9" fill="none" stroke="#ff0000" stroke-width="4.5" stroke-linejoin="round"/>
<path d="M1259.7 615.1L1263.8 48.2" fill="none" stroke="#1f77b4" stroke-width="5.1" stroke-linejoin="round"/>
</g>
<rect x="1461" y="401.5" width="209.7" height="208.5" fill="#fff"/>
<rect x="1472.4" y="416" width="183.6" height="182.3" fill="#000"/>
<rect x="1489.4" y="458.3" width="26.5" height="96.7" fill="#fff"/>
<rect x="1540.8" y="455" width="46.8" height="103.1" fill="#fff"/>
<rect x="1612.7" y="458.3" width="26.3" height="96.7" fill="#fff"/>
<rect x="951" y="46.8" width="721" height="571.2" fill="none" stroke="#000" stroke-width="2.4"/>
<path d="M1033.7 618v11.6M1136.5 618v11.6M1236.3 618v11.6M1338.4 618v11.6M1438 618v11.6M1538.2 618v11.6M1640.3 618v11.6M951 60.5h-9.8M951 152h-9.8M951 239.7h-9.8M951 331h-9.8M951 421.5h-9.8M951 513h-9.8M951 604.4h-9.8M1672 46.9h9.8M1672 160.3h9.8M1672 273.7h9.8M1672 390.1h9.8M1672 504.7h9.8M1672 618.2h9.8" stroke="#000" stroke-width="1.9" fill="none"/>
<text transform="translate(1031 666.6) scale(0.968 1)" font-size="35.2" text-anchor="middle">660</text>
<text transform="translate(1140.5 666.6) scale(0.968 1)" font-size="35.2" text-anchor="middle">680</text>
<text transform="translate(1242.6 666.6) scale(0.968 1)" font-size="35.2" text-anchor="middle">700</text>
<text transform="translate(1343.2 666.6) scale(0.968 1)" font-size="35.2" text-anchor="middle">720</text>
<text transform="translate(1435.8 666.6) scale(0.968 1)" font-size="35.2" text-anchor="middle">740</text>
<text transform="translate(1537.3 666.6) scale(0.968 1)" font-size="35.2" text-anchor="middle">760</text>
<text transform="translate(1637.8 666.6) scale(0.968 1)" font-size="35.2" text-anchor="middle">780</text>
<text x="931" y="72.2" font-size="33.6" text-anchor="end">3.0</text>
<text x="931" y="163.2" font-size="33.6" text-anchor="end">2.0</text>
<text x="931" y="252.2" font-size="33.6" text-anchor="end">1.0</text>
<text x="931" y="348.9" font-size="33.6" text-anchor="end">0.0</text>
<text x="931" y="438.9" font-size="33.6" text-anchor="end">-1.0</text>
<text x="931" y="532.5" font-size="33.6" text-anchor="end">-2.0</text>
<text x="931" y="622" font-size="33.6" text-anchor="end">-3.0</text>
<text transform="translate(1693.8 56.2) scale(0.985 1)" font-size="35.2" text-anchor="start">1.0</text>
<text transform="translate(1693.8 171.6) scale(0.985 1)" font-size="35.2" text-anchor="start">0.8</text>
<text transform="translate(1693.8 286.2) scale(0.985 1)" font-size="35.2" text-anchor="start">0.6</text>
<text transform="translate(1693.8 402) scale(0.985 1)" font-size="35.2" text-anchor="start">0.4</text>
<text transform="translate(1693.8 519.5) scale(0.985 1)" font-size="35.2" text-anchor="start">0.2</text>
<text transform="translate(1693.8 633.3) scale(0.985 1)" font-size="35.2" text-anchor="start">0.0</text>
<path d="M1033.7 826.8V1399.1M1136.5 826.8V1399.1M1236.3 826.8V1399.1M1338.4 826.8V1399.1M1438 826.8V1399.1M1538.2 826.8V1399.1M1640.3 826.8V1399.1M951 840.6H1672M951 932.1H1672M951 1019.8H1672M951 1111.3H1672M951 1201.8H1672M951 1293.4H1672M951 1384.5H1672" stroke="#b6b6b6" stroke-width="2.5" fill="none"/>
<g clip-path="url(#clipF)">
<g fill="#1f77b4"><circle cx="982.4" cy="892" r="7.1"/><circle cx="1002.5" cy="905.8" r="7.1"/><circle cx="1025.1" cy="925.9" r="7.1"/><circle cx="1045" cy="925.9" r="7.1"/><circle cx="1065.2" cy="909.1" r="7.1"/><circle cx="1085.1" cy="935.2" r="7.1"/><circle cx="1105.2" cy="954.7" r="7.1"/><circle cx="1124.8" cy="972.2" r="7.1"/><circle cx="1144.7" cy="994.8" r="7.1"/><circle cx="1164.8" cy="1017.4" r="7.1"/><circle cx="1184.3" cy="1043" r="7.1"/><circle cx="1204.9" cy="1074.3" r="7.1"/><circle cx="1222.3" cy="971.1" r="7.1"/><circle cx="1247" cy="1008.5" r="7.1"/><circle cx="1267.1" cy="1026.6" r="7.1"/><circle cx="1287.1" cy="1048.2" r="7.1"/><circle cx="1307" cy="1065.6" r="7.1"/><circle cx="1327.2" cy="1085.7" r="7.1"/><circle cx="1347.1" cy="1083.6" r="7.1"/><circle cx="1386.6" cy="1068.2" r="7.1"/><circle cx="1406.7" cy="1103.1" r="7.1"/><circle cx="1427.6" cy="1097" r="7.1"/><circle cx="1449.4" cy="1117.5" r="7.1"/><circle cx="1469.4" cy="1128.8" r="7.1"/><circle cx="1489.3" cy="1138.1" r="7.1"/><circle cx="1509.4" cy="1145.9" r="7.1"/><circle cx="1528.9" cy="1154.5" r="7.1"/><circle cx="1549.1" cy="1162.7" r="7.1"/><circle cx="1569" cy="1172" r="7.1"/><circle cx="1588.9" cy="1179.6" r="7.1"/><circle cx="1609.1" cy="1185.3" r="7.1"/><circle cx="1629" cy="1196.6" r="7.1"/></g>
<path d="M979.9 890C987.5 896 995 901.8 1002.5 907.4C1010.1 913.1 1017.6 920 1025.1 923.9C1028 925.4 1030.9 927.6 1033.8 927.6C1036.4 927.6 1039 926.4 1041.6 924.9C1044.3 923.3 1047 912.6 1049.8 909.5C1051.8 907.2 1053.9 904.4 1055.9 904.4C1059 904.4 1062.1 905.2 1065.2 906.4C1067.6 907.4 1070 914.1 1072.4 917.7C1076.6 924.2 1080.9 931.1 1085.1 936.2C1091.8 944.4 1098.5 950.4 1105.2 956.8C1111.7 963 1118.3 967.8 1124.8 974.2C1131.4 980.7 1138 988.5 1144.7 995.8C1151.4 1003.2 1158.1 1010.3 1164.8 1018.4C1171.3 1026.3 1177.8 1033.8 1184.3 1044.1C1188.1 1050 1191.9 1059.2 1195.6 1065.6C1198 1069.7 1200.4 1073.5 1202.8 1076.9C1204.2 1069.2 1205.6 1056.1 1206.9 1041C1208.3 1025.8 1209.7 992.6 1211 979.4C1212.1 969.4 1213.1 960.9 1214.1 956.8L1219.3 955.7L1222.3 962.9L1228.5 977.3L1236.7 993.7L1247 1008.1L1267.1 1027.6L1287.1 1047.1L1307 1064.6L1305 1065.1L1317.3 1076.4L1327.2 1085.7L1333.8 1101.1L1340.3 1125.7C1341.2 1117 1342.1 1108.6 1343 1101.1C1344.4 1089.5 1345.7 1078.6 1347.1 1069.2C1348.8 1077.8 1350.5 1086.4 1352.3 1094.9C1354.3 1105.2 1356.4 1115.5 1358.4 1125.7C1359.8 1132.6 1361.2 1140.2 1362.5 1146.3C1363.9 1152.4 1365.3 1157.9 1366.6 1162.7L1370.3 980.9C1371.8 995.5 1373.3 1008.4 1374.9 1018.9C1376.2 1028.5 1377.6 1037.6 1379 1043.6C1381.5 1054.6 1384 1062.5 1386.6 1068.2C1390.2 1076.5 1393.8 1080.4 1397.4 1086.7C1400.5 1092.1 1403.6 1094.8 1406.7 1103.1C1408.4 1107.8 1410.1 1118.6 1411.8 1127.8C1412.9 1133.3 1413.9 1139.7 1414.9 1146.3L1422.1 1082.6C1424.2 1088.3 1426.2 1093.6 1428.3 1097C1431.7 1102.6 1435.1 1106.1 1438.5 1109.3C1442.2 1112.7 1445.8 1115.3 1449.4 1117.5C1456.1 1121.7 1462.7 1124.4 1469.4 1127.8C1476 1131.2 1482.6 1135.1 1489.3 1138.1C1496 1141 1502.7 1143.1 1509.4 1145.9C1515.9 1148.6 1522.4 1151.7 1528.9 1154.5C1535.6 1157.4 1542.4 1160 1549.1 1162.7C1555.7 1165.4 1562.3 1168.2 1569 1170.9C1575.6 1173.7 1582.3 1176.8 1588.9 1179.2C1595.6 1181.5 1602.3 1182.8 1609.1 1185.3C1615.7 1187.8 1622.3 1192.9 1629 1194.6C1632.7 1195.5 1636.5 1196.3 1640.3 1196.6" fill="none" stroke="#1f77b4" stroke-width="4.5" stroke-linejoin="round"/>
<g fill="#ff0000"><circle cx="982.4" cy="997.4" r="7.1"/><circle cx="1002.5" cy="996.8" r="7.1"/><circle cx="1025.1" cy="1013.9" r="7.1"/><circle cx="1045.7" cy="1076.9" r="7.1"/><circle cx="1065.2" cy="985.9" r="7.1"/><circle cx="1085.1" cy="894.7" r="7.1"/><circle cx="1105.2" cy="875" r="7.1"/><circle cx="1124.8" cy="852" r="7.1"/><circle cx="1144.7" cy="846.2" r="7.1"/><circle cx="1164.8" cy="857.5" r="7.1"/><circle cx="1184.3" cy="909.1" r="7.1"/><circle cx="1204.4" cy="1211.6" r="7.1"/><circle cx="1224.4" cy="1020" r="7.1"/><circle cx="1247" cy="875" r="7.1"/><circle cx="1267.1" cy="849.9" r="7.1"/><circle cx="1287.1" cy="827.7" r="7.1"/><circle cx="1307" cy="834.5" r="7.1"/><circle cx="1327.2" cy="848.9" r="7.1"/><circle cx="1347.1" cy="903.3" r="7.1"/><circle cx="1366.9" cy="1236.7" r="7.1"/><circle cx="1386.6" cy="857.5" r="7.1"/><circle cx="1406.7" cy="855.1" r="7.1"/><circle cx="1426.6" cy="889" r="7.1"/><circle cx="1449.4" cy="874.6" r="7.1"/><circle cx="1469.4" cy="877.2" r="7.1"/><circle cx="1489.3" cy="880.3" r="7.1"/><circle cx="1509.4" cy="885.9" r="7.1"/><circle cx="1528.9" cy="892" r="7.1"/><circle cx="1549.1" cy="895.1" r="7.1"/><circle cx="1569" cy="895.1" r="7.1"/><circle cx="1588.9" cy="895.1" r="7.1"/><circle cx="1609.1" cy="892" r="7.1"/><circle cx="1629" cy="895.1" r="7.1"/></g>
<path d="M979.9 996.8C984 995.6 988.1 994.6 992.3 994.1C995.7 993.8 999.1 993.3 1002.5 993.3C1005.3 993.3 1008 995.6 1010.7 997.8C1013.5 1000 1016.2 1005.2 1019 1010.2C1021.7 1015.1 1024.4 1021.2 1027.2 1028.7C1029.9 1036.2 1032.7 1048.1 1035.4 1057.4C1037.4 1064.4 1039.5 1074.4 1041.6 1078C1043.3 1080.9 1045 1084.1 1046.7 1084.1C1048.1 1084.1 1049.4 1078.7 1050.8 1073.9C1052.5 1067.8 1054.2 1053.7 1055.9 1041C1057.7 1028.3 1059.4 1010.1 1061.1 995.8C1062.8 981.4 1064.5 965.7 1066.2 954.7C1068.3 941.5 1070.3 930.3 1072.4 921.8C1074.4 913.4 1076.5 906 1078.5 901.3C1080.7 896.3 1082.9 893.2 1085.1 890C1088.4 885.2 1091.7 880.9 1095 877.7C1098.4 874.3 1101.8 871.8 1105.2 869.4C1108.7 867.1 1112.1 864.9 1115.5 863.3C1118.6 861.9 1121.7 860.6 1124.8 859.8C1128.5 858.9 1132.3 857.7 1136.1 857.7C1138.9 857.7 1141.8 858.1 1144.7 858.6C1148 859 1151.3 860.5 1154.6 862.3C1158 864.1 1161.4 867.7 1164.8 872.5C1167.6 876.4 1170.3 883.3 1173 891C1175.1 896.8 1177.1 904.7 1179.2 913.6C1180.9 921 1182.6 929.7 1184.3 940.3C1186.1 950.9 1187.8 964.5 1189.5 979.4C1190.8 991.2 1192.2 1005.2 1193.6 1020.4C1195 1035.7 1196.3 1051.8 1197.7 1071.8C1201.5 1127.2 1205.3 1197.5 1209.1 1287C1213.2 1212.2 1217.2 1141.2 1221.3 1071.8C1222.3 1054.3 1223.4 1035.2 1224.4 1020.4C1225.8 1000.7 1227.1 983.9 1228.5 969.1C1229.9 954.3 1231.2 940.6 1232.6 930C1234 919.5 1235.4 910.2 1236.7 903.3C1238.8 893 1240.8 885.3 1242.9 878.7C1244.9 872.1 1247 866.6 1249.1 862.3C1251.8 856.4 1254.5 850.7 1257.3 847.9C1260.6 844.4 1263.8 842.3 1267.1 840.7C1270.7 838.9 1274.3 837.4 1277.8 836.6C1280.9 835.9 1284 835.1 1287.1 835.1C1290.8 835.1 1294.6 835.3 1298.4 835.5C1301.2 835.7 1304.1 836.3 1307 837.2C1309.7 838 1312.5 841.1 1315.3 842.7C1319.2 845.1 1323.2 846 1327.2 848.9C1329.4 850.5 1331.6 852 1333.8 856.1C1334.8 858 1335.8 861.8 1336.8 868.4C1337.5 872.8 1338.2 884.1 1338.9 897.2C1339.6 910.3 1340.3 942.2 1341 958.8C1342 983.8 1343 999.1 1344 1020.4C1344.7 1034.7 1345.4 1049.5 1346.1 1064.6L1351.2 923.9C1353.3 923.9 1355.3 931.8 1357.4 942.4C1358.4 947.7 1359.4 963.9 1360.5 979.4C1361.5 994.8 1362.5 1007 1363.6 1041C1364.3 1065.8 1365.1 1142.7 1365.8 1222.3C1368.5 1186.6 1371.1 1106.9 1373.8 1020.4C1374.5 998.3 1375.2 956.9 1375.9 938.3C1376.9 910.3 1377.9 885.1 1379 876.6C1380.3 865.4 1381.7 859.5 1383.1 856.1C1385.8 849.4 1388.5 845.9 1391.3 843.8C1394.7 841.1 1398.1 840.2 1401.6 838.6C1404.6 837.2 1407.7 835.8 1410.8 834.5C1411.5 834.5 1412.2 842.2 1412.9 856.1C1413.2 863 1413.5 910.9 1413.9 938.3C1414.2 965.7 1414.6 989.7 1414.9 1020.4C1415.4 1068 1416 1123.3 1416.5 1186.5C1417.5 1134.2 1418.6 1078.2 1419.6 1020.4C1420.1 994 1420.6 951.8 1421.1 938.3C1421.8 918.9 1422.4 907 1423.1 901.3C1424.2 892.7 1425.2 888.1 1426.2 885.3C1428.3 879.7 1430.3 876.3 1432.4 874.8C1435.1 872.8 1437.9 871.1 1440.6 871.1C1443.7 871.1 1446.8 871.1 1449.8 871.1C1456.3 871.1 1462.8 873.3 1469.4 874.4C1476 875.4 1482.6 876.3 1489.3 877.5C1496 878.6 1502.7 880.1 1509.4 881.2C1515.9 882.2 1522.4 883.1 1528.9 883.8C1535.6 884.6 1542.4 885.2 1549.1 885.7C1555.7 886.1 1562.3 886.5 1569 886.7C1575.6 886.9 1582.3 887.1 1588.9 887.1C1595.6 887.1 1602.3 887.1 1609.1 887.1C1615.7 887.1 1622.3 886.9 1629 886.7C1633.2 886.6 1637.3 886.3 1641.5 886.1" fill="none" stroke="#ff0000" stroke-width="4.5" stroke-linejoin="round"/>
</g>
<rect x="1461" y="1203" width="194.2" height="189" fill="#fff"/>
<rect x="1471" y="1208.3" width="174.6" height="174" fill="#000"/>
<rect x="1493" y="1234.2" width="130.8" height="121.6" rx="1.5" fill="#fff"/>
<rect x="1519.7" y="1256.2" width="28.1" height="27.7" rx="2" fill="#000"/>
<rect x="1569" y="1256.2" width="27.7" height="27.7" rx="2" fill="#000"/>
<rect x="1519.7" y="1305.5" width="28.1" height="27.7" rx="2" fill="#000"/>
<rect x="1569" y="1305.5" width="27.7" height="27.7" rx="2" fill="#000"/>
<rect x="951" y="826.8" width="721" height="572.3" fill="none" stroke="#000" stroke-width="2.4"/>
<path d="M1033.7 1399.1v11.6M1136.5 1399.1v11.6M1236.3 1399.1v11.6M1338.4 1399.1v11.6M1438 1399.1v11.6M1538.2 1399.1v11.6M1640.3 1399.1v11.6M951 840.6h-9.8M951 932.1h-9.8M951 1019.8h-9.8M951 1111.3h-9.8M951 1201.8h-9.8M951 1293.4h-9.8M951 1384.5h-9.8M1672 826.9h9.8M1672 940.3h9.8M1672 1053.7h9.8M1672 1170.1h9.8M1672 1284.9h9.8M1672 1399.1h9.8" stroke="#000" stroke-width="1.9" fill="none"/>
<text transform="translate(1031 1445.6) scale(0.968 1)" font-size="35.2" text-anchor="middle">660</text>
<text transform="translate(1140.5 1445.6) scale(0.968 1)" font-size="35.2" text-anchor="middle">680</text>
<text transform="translate(1242.6 1445.6) scale(0.968 1)" font-size="35.2" text-anchor="middle">700</text>
<text transform="translate(1343.2 1445.6) scale(0.968 1)" font-size="35.2" text-anchor="middle">720</text>
<text transform="translate(1435.8 1445.6) scale(0.968 1)" font-size="35.2" text-anchor="middle">740</text>
<text transform="translate(1537.3 1445.6) scale(0.968 1)" font-size="35.2" text-anchor="middle">760</text>
<text transform="translate(1637.8 1445.6) scale(0.968 1)" font-size="35.2" text-anchor="middle">780</text>
<text x="931" y="852.1" font-size="33.6" text-anchor="end">3.0</text>
<text x="931" y="943.2" font-size="33.6" text-anchor="end">2.0</text>
<text x="931" y="1032.2" font-size="33.6" text-anchor="end">1.0</text>
<text x="931" y="1128.8" font-size="33.6" text-anchor="end">0.0</text>
<text x="931" y="1218.8" font-size="33.6" text-anchor="end">-1.0</text>
<text x="931" y="1312.5" font-size="33.6" text-anchor="end">-2.0</text>
<text x="931" y="1402" font-size="33.6" text-anchor="end">-3.0</text>
<text transform="translate(1693.8 833.7) scale(0.985 1)" font-size="35.2" text-anchor="start">1.0</text>
<text transform="translate(1693.8 949.1) scale(0.985 1)" font-size="35.2" text-anchor="start">0.8</text>
<text transform="translate(1693.8 1063.9) scale(0.985 1)" font-size="35.2" text-anchor="start">0.6</text>
<text transform="translate(1693.8 1179.4) scale(0.985 1)" font-size="35.2" text-anchor="start">0.4</text>
<text transform="translate(1693.8 1294.5) scale(0.985 1)" font-size="35.2" text-anchor="start">0.2</text>
<text transform="translate(1693.8 1409.8) scale(0.985 1)" font-size="35.2" text-anchor="start">0.0</text>
<path d="M797.3 1090.5V1100.5" stroke="#d2d2d2" stroke-width="1.6" fill="none"/>
<text transform="translate(439.5 33.3) scale(1.035 1)" font-size="38.5" text-anchor="middle">Real</text>
<text transform="translate(443 373.6) scale(1.035 1)" font-size="38.5" text-anchor="middle">Imag</text>
<text transform="translate(1320.2 34.9) scale(1.035 1)" font-size="38.5" text-anchor="middle">Amplitude and Phase</text>
<text transform="translate(439.5 810) scale(1.035 1)" font-size="38.5" text-anchor="middle">Real</text>
<text transform="translate(443 1151.2) scale(1.035 1)" font-size="38.5" text-anchor="middle">Imag</text>
<text transform="translate(1320.2 811.5) scale(1.035 1)" font-size="38.5" text-anchor="middle">Amplitude and Phase</text>
<text transform="translate(450.5 716) scale(1.05 1)" font-size="38.5" text-anchor="middle">Wavelength(nm)</text>
<text transform="translate(1322 716) scale(1.05 1)" font-size="38.5" text-anchor="middle">Wavelength(nm)</text>
<text transform="translate(450.5 1487) scale(1.05 1)" font-size="38.5" text-anchor="middle">Wavelength(nm)</text>
<text transform="translate(1322 1487) scale(1.05 1)" font-size="38.5" text-anchor="middle">Wavelength(nm)</text>
<text transform="translate(872.7 312.5) rotate(-90) scale(0.982 1)" font-size="40.3" text-anchor="middle">Phase(rad)</text>
<text transform="translate(1783 306.4) rotate(-90) scale(0.982 1)" font-size="40.3" text-anchor="middle">Amplitude</text>
<text transform="translate(872.7 1094.6) rotate(-90) scale(0.982 1)" font-size="40.3" text-anchor="middle">Phase(rad)</text>
<text transform="translate(1788.8 1098.5) rotate(-90) scale(0.982 1)" font-size="40.3" text-anchor="middle">Amplitude</text>
<path d="M50.7 1580.8H113.3" stroke="#ffd700" stroke-width="6" fill="none"/>
<circle cx="77.3" cy="1633.4" r="9.6" fill="#c4c5ca"/>
<text transform="translate(136.8 1603.3) scale(1.07 1)" font-size="35.3" text-anchor="start">FDTD simulated</text>
<text transform="translate(136.8 1656.8) scale(1.07 1)" font-size="35.3" text-anchor="start">PNN predicted</text>
<path d="M545.7 1585.8H610" stroke="#ff0000" stroke-width="6" fill="none"/>
<circle cx="577.6" cy="1640.8" r="8.4" fill="#ff0000"/>
<text transform="translate(633.8 1603.3) scale(1.07 1)" font-size="35.3" text-anchor="start">FDTD simulated amplitude</text>
<text transform="translate(633.8 1656.8) scale(1.07 1)" font-size="35.3" text-anchor="start">PNN predicted amplitude</text>
<path d="M1172.7 1582H1242" stroke="#1f77b4" stroke-width="6" fill="none"/>
<circle cx="1208.5" cy="1635.2" r="8.4" fill="#1f77b4"/>
<text transform="translate(1269 1603.3) scale(1.07 1)" font-size="35.3" text-anchor="start">FDTD simulated phase</text>
<text transform="translate(1269 1656.8) scale(1.07 1)" font-size="35.3" text-anchor="start">PNN predicted phase</text>
</g>
</svg>
</body>
</html>
